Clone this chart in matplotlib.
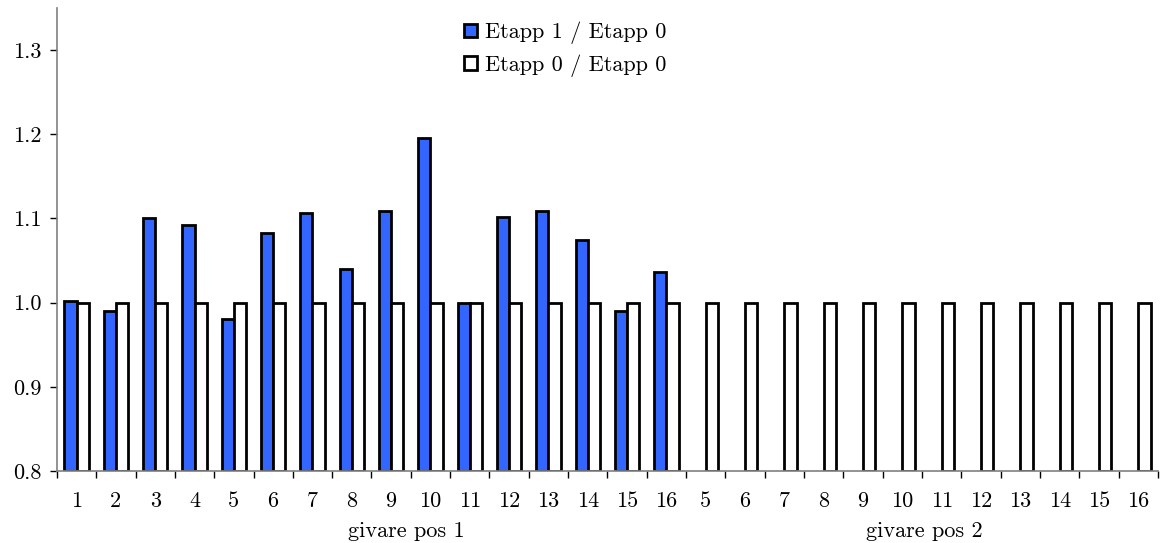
import numpy as np
import matplotlib.pyplot as plt

plt.rcParams['font.family'] = ['cmr10', 'DejaVu Serif']
plt.rcParams['axes.formatter.use_mathtext'] = True

tick_labels = [str(i) for i in range(1, 17)] + [str(i) for i in range(5, 17)]
etapp1 = [1.002, 0.990, 1.101, 1.092, 0.980, 1.083, 1.107, 1.040,
          1.109, 1.195, 1.000, 1.102, 1.109, 1.074, 0.990, 1.036]
etapp0 = [1.0] * 28
groups = ["givare pos 1", "givare pos 2"]

x = np.arange(len(tick_labels))
w = 0.31
fs = 16

fig = plt.figure(figsize=(11.61, 5.43), dpi=100)
ax = fig.add_axes([0.049, 0.1326, 0.9484, 0.8527])

ax.bar(x[:len(etapp1)] - w/2, np.array(etapp1) - 0.8, w, bottom=0.8,
       color='#3366ff', edgecolor='black', linewidth=2, label='Etapp 1 / Etapp 0')
ax.bar(x + w/2, np.array(etapp0) - 0.8, w, bottom=0.8,
       color='white', edgecolor='black', linewidth=2, label='Etapp 0 / Etapp 0')

ax.set_xlim(-0.5, len(x) - 0.5)
ax.set_ylim(0.8, 1.35)
ax.set_yticks([0.8, 0.9, 1.0, 1.1, 1.2, 1.3])
ax.set_yticklabels(['0.8', '0.9', '1.0', '1.1', '1.2', '1.3'])

ax.set_xticks(np.arange(-0.5, len(x), 1.0))
ax.set_xticklabels([])
ax.set_xticks(x, minor=True)
ax.set_xticklabels(tick_labels, minor=True)
ax.tick_params(axis='x', which='major', direction='out', length=5, width=1)
ax.tick_params(axis='x', which='minor', length=0, pad=15, labelsize=fs)
ax.tick_params(axis='y', direction='out', length=5, width=1, labelsize=fs, pad=6)

for s in ['top', 'right']:
    ax.spines[s].set_visible(False)
for s in ['left', 'bottom']:
    ax.spines[s].set_color('#808080')
    ax.spines[s].set_linewidth(1.2)

tr = ax.get_xaxis_transform()
ax.text(8.38, -0.13, groups[0], transform=tr, ha='center', va='center', fontsize=fs)
ax.text(21.55, -0.13, groups[1], transform=tr, ha='center', va='center', fontsize=fs)

leg = ax.legend(loc='upper left', bbox_to_anchor=(0.37, 0.97), frameon=False,
                fontsize=fs, handlelength=0.55, handleheight=0.55, handletextpad=0.4,
                labelspacing=0.45, borderpad=0, borderaxespad=0)

fig.savefig('out.png', dpi=100)
